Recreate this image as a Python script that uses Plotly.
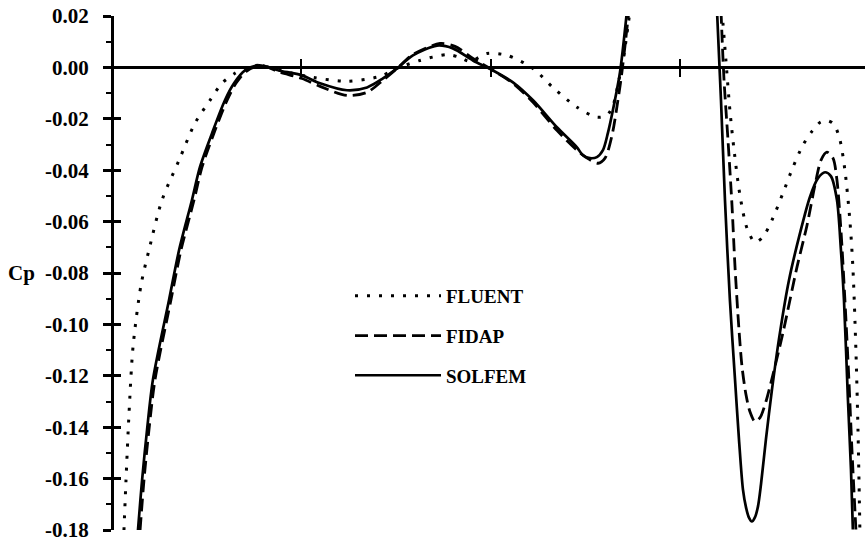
import plotly.graph_objects as go

# ---- data (x in axis units, Cp values) ; None separates the two curve segments
solfem_x = [0.137, 0.159, 0.185, 0.216, 0.301, 0.354, 0.422, 0.464, 0.528, 0.596, 0.644, 0.702,
            0.776, 0.881, 1.003, 1.098, 1.240, 1.346, 1.430, 1.504, 1.588, 1.715, 1.799, 1.905,
            2.011, 2.116, 2.222, 2.348, 2.454, 2.485, 2.522, 2.559, 2.591, 2.617, 2.654, 2.681, 2.718,
            None,
            3.193, 3.214, 3.235, 3.261, 3.288, 3.309, 3.330, 3.346, 3.361, 3.377, 3.393, 3.409,
            3.425, 3.451, 3.483, 3.525, 3.573, 3.631, 3.683, 3.726, 3.763, 3.794, 3.826, 3.847,
            3.863, 3.884, 3.900, 3.910]
solfem_y = [-0.1802, -0.1604, -0.1410, -0.1215, -0.0905, -0.0711, -0.0516, -0.0388, -0.0256, -0.0128,
            -0.0062, -0.0012, 0.0008, -0.0012, -0.0031, -0.0062, -0.0089, -0.0078, -0.0043, -0.0004,
            0.0047, 0.0085, 0.0074, 0.0027, -0.0012, -0.0058, -0.0128, -0.0233, -0.0311, -0.0342,
            -0.0353, -0.0349, -0.0322, -0.0256, -0.0128, -0.0019, 0.0221,
            None,
            0.0221, -0.0128, -0.0516, -0.0905, -0.1215, -0.1448, -0.1643, -0.1712, -0.1751, -0.1767,
            -0.1751, -0.1709, -0.1623, -0.1448, -0.1254, -0.1033, -0.0827, -0.0645, -0.0505, -0.0431,
            -0.0408, -0.0423, -0.0516, -0.0711, -0.0905, -0.1293, -0.1565, -0.1798]

fidap_x = [0.148, 0.169, 0.195, 0.227, 0.311, 0.364, 0.433, 0.475, 0.538, 0.607, 0.654, 0.707,
           0.781, 0.887, 1.003, 1.098, 1.240, 1.346, 1.430, 1.504, 1.588, 1.731, 1.810, 1.905,
           2.011, 2.116, 2.222, 2.348, 2.454, 2.512, 2.565, 2.602, 2.639, 2.670, 2.691, 2.728,
           None,
           3.214, 3.230, 3.251, 3.272, 3.288, 3.309, 3.325, 3.346, 3.367, 3.393, 3.420, 3.451,
           3.488, 3.541, 3.615, 3.668, 3.710, 3.742, 3.773, 3.805, 3.826, 3.847, 3.868, 3.889,
           3.905, 3.926]
fidap_y = [-0.1802, -0.1604, -0.1410, -0.1215, -0.0905, -0.0711, -0.0516, -0.0388, -0.0256, -0.0128,
           -0.0062, -0.0016, 0.0008, -0.0019, -0.0043, -0.0074, -0.0109, -0.0097, -0.0050, -0.0004,
           0.0050, 0.0093, 0.0082, 0.0035, -0.0012, -0.0062, -0.0136, -0.0245, -0.0322, -0.0355,
           -0.0373, -0.0353, -0.0264, -0.0128, -0.0019, 0.0221,
           None,
           0.0221, -0.0050, -0.0283, -0.0536, -0.0777, -0.1021, -0.1165, -0.1274, -0.1340, -0.1378,
           -0.1363, -0.1301, -0.1196, -0.1033, -0.0777, -0.0614, -0.0458, -0.0361, -0.0330, -0.0353,
           -0.0439, -0.0633, -0.0905, -0.1215, -0.1487, -0.1798]

fluent_x = [0.063, 0.074, 0.090, 0.111, 0.153, 0.195, 0.264, 0.354, 0.438, 0.517, 0.580, 0.649,
            0.712, 0.781, 0.887, 1.061, 1.240, 1.414, 1.504, 1.625, 1.768, 1.836, 1.889, 1.979,
            2.084, 2.222, 2.327, 2.454, 2.559, 2.612, 2.644, 2.675, 2.697, 2.734,
            None,
            3.219, 3.240, 3.261, 3.283, 3.314, 3.351, 3.393, 3.435, 3.488, 3.541, 3.594, 3.646,
            3.694, 3.736, 3.773, 3.810, 3.842, 3.868, 3.894, 3.910, 3.926, 3.937, 3.947]
fluent_y = [-0.1802, -0.1604, -0.1344, -0.1087, -0.0847, -0.0711, -0.0516, -0.0361, -0.0217, -0.0128,
            -0.0062, -0.0023, 0.0000, 0.0008, -0.0012, -0.0039, -0.0054, -0.0035, -0.0004, 0.0027,
            0.0050, 0.0039, 0.0023, 0.0054, 0.0047, -0.0004, -0.0078, -0.0155, -0.0194, -0.0186,
            -0.0148, -0.0050, 0.0027, 0.0221,
            None,
            0.0221, 0.0027, -0.0167, -0.0322, -0.0497, -0.0625, -0.0680, -0.0660, -0.0586, -0.0489,
            -0.0388, -0.0303, -0.0249, -0.0214, -0.0206, -0.0221, -0.0283, -0.0400, -0.0594, -0.0777,
            -0.1099, -0.1410, -0.1798]

series_names = ["FLUENT", "FIDAP", "SOLFEM"]

y_tickvals = [0.02, 0.00, -0.02, -0.04, -0.06, -0.08, -0.10, -0.12, -0.14, -0.16, -0.18]
y_ticktext = ["0.02", "0.00", "-0.02", "-0.04", "-0.06", "-0.08", "-0.10", "-0.12", "-0.14", "-0.16", "-0.18"]
y_minor_vals = [0.01, -0.01, -0.03, -0.05, -0.07, -0.09, -0.11, -0.13, -0.15, -0.17]
x_tickvals = [1, 2, 3]

Y_MIN, Y_MAX = -0.18, 0.02
X_MIN, X_MAX = 0.0, 3.974

FONT = "Liberation Serif"

fig = go.Figure()

fig.add_trace(go.Scatter(x=fluent_x, y=fluent_y, mode="lines", name=series_names[0],
                         legendgroup="a",
                         line=dict(color="black", width=3, dash="3px,9px", shape="spline", smoothing=0.8)))
fig.add_trace(go.Scatter(x=fidap_x, y=fidap_y, mode="lines", name=series_names[1],
                         legendgroup="b",
                         line=dict(color="black", width=2.8, dash="13px,6px", shape="spline", smoothing=0.8)))
fig.add_trace(go.Scatter(x=solfem_x, y=solfem_y, mode="lines", name=series_names[2],
                         legendgroup="c",
                         line=dict(color="black", width=2.7, shape="spline", smoothing=0.8)))
# helper (empty) trace so the second pair of axes (used for crossing ticks) is drawn
fig.add_trace(go.Scatter(x=[], y=[], xaxis="x2", yaxis="y2", showlegend=False, hoverinfo="skip"))

zero_pos = (0 - Y_MIN) / (Y_MAX - Y_MIN)

fig.update_layout(
    width=865, height=545,
    margin=dict(l=112, r=0, t=15.5, b=14.5),
    paper_bgcolor="white", plot_bgcolor="white",
    font=dict(family=FONT, size=21, color="black", weight="bold"),
    showlegend=True,
    legend=dict(x=(350 - 112) / 753, y=1 - (277 - 15.5) / 515, xanchor="left", yanchor="top",
                bgcolor="rgba(0,0,0,0)", borderwidth=0, traceorder="grouped",
                tracegroupgap=12, itemwidth=86,
                font=dict(family=FONT, size=19, color="black", weight="bold")),
    xaxis=dict(range=[X_MIN, X_MAX], domain=[0, 1], anchor="free", position=zero_pos,
               showline=True, linecolor="black", linewidth=2.5,
               tickmode="array", tickvals=x_tickvals, ticks="outside", ticklen=8,
               tickwidth=2, tickcolor="black", showticklabels=False,
               showgrid=False, zeroline=False),
    xaxis2=dict(range=[X_MIN, X_MAX], overlaying="x", anchor="free", position=zero_pos,
                showline=False, tickmode="array", tickvals=x_tickvals, ticks="inside",
                ticklen=8, tickwidth=2, tickcolor="black", showticklabels=False,
                showgrid=False, zeroline=False),
    yaxis=dict(range=[Y_MIN, Y_MAX], domain=[0, 1], anchor="free", position=0,
               showline=True, linecolor="black", linewidth=3,
               tickmode="array", tickvals=y_tickvals, ticktext=y_ticktext,
               ticks="outside", ticklen=8, tickwidth=2.5, tickcolor="black",
               ticklabelstandoff=10,
               minor=dict(tickmode="array", tickvals=y_minor_vals, ticks="outside",
                          ticklen=5, tickwidth=2, tickcolor="black", showgrid=False),
               tickfont=dict(family=FONT, size=21, color="black", weight="bold"),
               showgrid=False, zeroline=False),
    yaxis2=dict(range=[Y_MIN, Y_MAX], overlaying="y", anchor="free", position=0,
                showline=False, tickmode="array", tickvals=y_tickvals, ticks="inside",
                ticklen=8, tickwidth=2.5, tickcolor="black", showticklabels=False,
                showgrid=False, zeroline=False),
)

fig.add_annotation(text="Cp", xref="paper", yref="y", x=-(112 - 37) / 753, y=-0.08,
                   xanchor="right", yanchor="middle", showarrow=False,
                   font=dict(family=FONT, size=21, color="black", weight="bold"))

fig.write_html("out.html")
